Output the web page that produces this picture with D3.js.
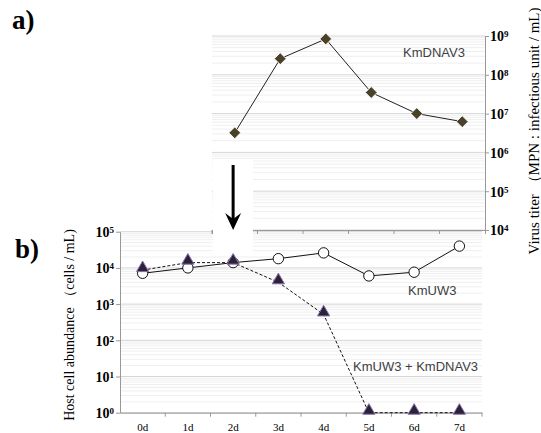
<!DOCTYPE html>
<html><head><meta charset="utf-8">
<script src="https://cdn.jsdelivr.net/npm/d3@7"></script>
<style>body{margin:0;background:#fff}svg{display:block}</style>
</head><body>
<svg id="c" width="541" height="433"></svg>
<script>
const days = ["0d","1d","2d","3d","4d","5d","6d","7d"];
const virusDays = ["2d","3d","4d","5d","6d","7d"];
const virusTiter = [3.2e6, 2.6e8, 8.4e8, 3.5e7, 1.0e7, 6.2e6];
const hostOnly = [7.1e3, 1.0e4, 1.4e4, 1.8e4, 2.6e4, 6.0e3, 7.6e3, 4.0e4];
const hostInfected = [8.7e3, 1.4e4, 1.4e4, 4.0e3, 5.2e2, 1, 1, 1];
const virusTicks = [1e4,1e5,1e6,1e7,1e8,1e9];
const hostTicks = [1e0,1e1,1e2,1e3,1e4,1e5];

const svg = d3.select("#c");
const serif = "'Liberation Serif','Times New Roman',serif";
const sans = "'Liberation Sans',Arial,sans-serif";

const xB = d3.scaleBand().domain(days).range([120, 482]);
const yB = d3.scaleLog().domain([1, 1e5]).range([412.7, 231.7]);
const xA = d3.scaleBand().domain(virusDays).range([212, 485]);
const yA = d3.scaleLog().domain([1e4, 1e9]).range([230, 36]);

function grid(yS, x0, x1, lo, hi) {
  const g = svg.append("g");
  for (let e = lo; e < hi; e++) {
    for (let m = 2; m <= 9; m++) {
      const v = m * Math.pow(10, e);
      g.append("line").attr("x1", x0).attr("x2", x1)
        .attr("y1", yS(v)).attr("y2", yS(v))
        .attr("stroke", "#efefef").attr("stroke-width", 1);
    }
  }
  for (let e = lo; e <= hi; e++) {
    const v = Math.pow(10, e);
    g.append("line").attr("x1", x0).attr("x2", x1)
      .attr("y1", yS(v)).attr("y2", yS(v))
      .attr("stroke", "#d6d6d6").attr("stroke-width", 1);
  }
}
grid(yA, 212, 485, 4, 9);
grid(yB, 120, 482, 0, 5);

function supLabel(sel, exp) {
  sel.text("");
  sel.append("tspan").text("10");
  sel.append("tspan").attr("dy", "-0.45em").attr("font-size", "9px").text(exp);
}

const gAx = svg.append("g").attr("transform", "translate(0,230)")
  .call(d3.axisBottom(xA).tickFormat("").tickSizeOuter(0).tickSize(4));
gAx.select(".domain").attr("stroke", "#999");
gAx.selectAll(".tick").attr("transform", d => `translate(${xA(d)},0)`);
gAx.selectAll(".tick line").attr("stroke", "#999");
const gAy = svg.append("g").attr("transform", "translate(485,0)")
  .call(d3.axisRight(yA).tickValues(virusTicks).tickSize(4).tickSizeOuter(0).tickFormat(d => ""));
gAy.attr("font-family", serif).attr("font-size", 14);
gAy.select(".domain").attr("stroke", "#999");
gAy.selectAll(".tick line").attr("stroke", "#999");
gAy.selectAll(".tick text").attr("x", 5).attr("dy", "0.35em")
  .attr("font-family", serif).attr("font-weight", "bold").attr("font-size", "14px").attr("fill", "#000")
  .each(function(d){ supLabel(d3.select(this), String(Math.round(Math.log10(d)))); });

const gBx = svg.append("g").attr("transform", "translate(0,412.7)")
  .call(d3.axisBottom(xB).tickSize(4).tickSizeOuter(0));
gBx.attr("font-family", serif).attr("font-size", 11);
gBx.select(".domain").attr("stroke", "#999");
gBx.selectAll(".tick line").attr("stroke", "#999")
  .attr("transform", `translate(${xB.bandwidth()/2},0)`);
gBx.selectAll(".tick text").attr("y", 11).attr("font-family", serif).attr("font-size", "11px").attr("fill", "#000");
const gBy = svg.append("g").attr("transform", "translate(120,0)")
  .call(d3.axisLeft(yB).tickValues(hostTicks).tickSize(4).tickSizeOuter(0).tickFormat(d => ""));
gBy.attr("font-family", serif).attr("font-size", 14);
gBy.select(".domain").attr("stroke", "#999");
gBy.selectAll(".tick line").attr("stroke", "#999");
gBy.selectAll(".tick text").attr("x", -6).attr("dy", "0.35em").attr("text-anchor", "end")
  .attr("font-family", serif).attr("font-weight", "bold").attr("font-size", "14px").attr("fill", "#000")
  .each(function(d){ supLabel(d3.select(this), String(Math.round(Math.log10(d)))); });

const ax = xB("2d") + xB.bandwidth()/2;
svg.append("rect").attr("x", 213).attr("y", 160).attr("width", 40).attr("height", 92).attr("fill", "#fff");
svg.append("line").attr("x1", ax).attr("x2", ax)
  .attr("y1", 165).attr("y2", 220).attr("stroke", "#000").attr("stroke-width", 3);
svg.append("path").attr("d", `M${ax-8},213 L${ax},230 L${ax+8},213 L${ax},219 Z`).attr("fill", "#000");

const lineA = d3.line().x((d,i) => xA(virusDays[i]) + xA.bandwidth()/2).y(d => yA(d));
svg.append("path").datum(virusTiter).attr("d", lineA).attr("fill", "none").attr("stroke", "#222").attr("stroke-width", 1);
svg.append("g").selectAll("path").data(virusTiter).join("path")
  .attr("d", d3.symbol(d3.symbolSquare, 70)).attr("transform", function(d,i){
    return `translate(${xA(virusDays[i]) + xA.bandwidth()/2},${yA(d)}) rotate(45)`; })
  .attr("fill", "#4a4228").attr("stroke", "#fff").attr("stroke-width", 0.8);

const cx = d => xB(d) + xB.bandwidth()/2;
const lineB = d3.line().x((d,i) => cx(days[i])).y(d => yB(d));
svg.append("path").datum(hostOnly).attr("d", lineB).attr("fill", "none").attr("stroke", "#111").attr("stroke-width", 1);
svg.append("path").datum(hostInfected).attr("d", lineB).attr("fill", "none").attr("stroke", "#111")
  .attr("stroke-width", 1).attr("stroke-dasharray", "3,2");
svg.append("g").selectAll("circle").data(hostOnly).join("circle")
  .attr("cx", (d,i) => cx(days[i])).attr("cy", d => yB(d)).attr("r", 5.2)
  .attr("fill", "#fff").attr("stroke", "#111").attr("stroke-width", 1);
svg.append("g").selectAll("path").data(hostInfected).join("path")
  .attr("transform", (d,i) => `translate(${cx(days[i])},${yB(d) - 2})`)
  .attr("d", d3.symbol(d3.symbolTriangle, 65))
  .attr("fill", "#2a2235").attr("stroke", "#8a6fb0").attr("stroke-width", 1);

svg.append("text").attr("x", 403).attr("y", 57).attr("font-family", sans).attr("font-size", "13px").attr("fill", "#404040").text("KmDNAV3");
svg.append("text").attr("x", 408).attr("y", 295).attr("font-family", sans).attr("font-size", "13px").attr("fill", "#404040").text("KmUW3");
svg.append("text").attr("x", 353).attr("y", 371).attr("font-family", sans).attr("font-size", "13px").attr("fill", "#404040").text("KmUW3 + KmDNAV3");

svg.append("text").attr("x", 12).attr("y", 29).attr("font-family", serif).attr("font-weight", "bold").attr("font-size", "27px").text("a)");
svg.append("text").attr("x", 15).attr("y", 258).attr("font-family", serif).attr("font-weight", "bold").attr("font-size", "27px").text("b)");

svg.append("text").attr("transform", "translate(74,325) rotate(-90)").attr("text-anchor", "middle")
  .attr("font-family", serif).attr("font-size", "14px").text("Host cell abundance （cells / mL)");
svg.append("text").attr("transform", "translate(539,131) rotate(-90)").attr("text-anchor", "middle")
  .attr("font-family", serif).attr("font-size", "15px").text("Virus titer （MPN : infectious unit / mL)");
</script>
</body></html>
